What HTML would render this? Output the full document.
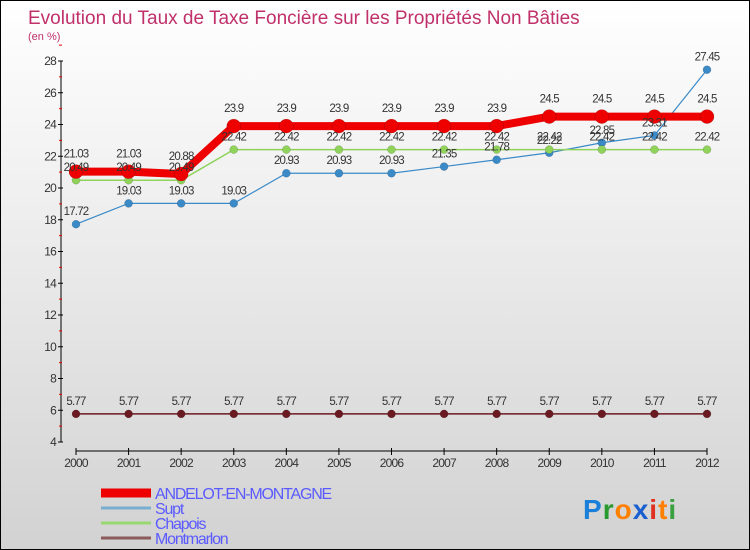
<!DOCTYPE html>
<html><head><meta charset="utf-8"><style>
body{margin:0}
#c{width:750px;height:550px;position:relative;box-sizing:border-box;border:1px solid #000;background:linear-gradient(#ffffff,#f2f2f2 30%,#d2d2d2);font-family:"Liberation Sans",sans-serif;overflow:hidden}
svg{position:absolute;left:0;top:0}
</style></head><body>
<div id="c">
<svg id="s" width="750" height="550">
<text x="27" y="23" font-size="19" fill="#c0306a">Evolution du Taux de Taxe Foncière sur les Propriétés Non Bâties</text>
<text x="27" y="39" font-size="11" fill="#c0306a">(en %)</text>
</svg>
</div>
<script>
const years=[2000,2001,2002,2003,2004,2005,2006,2007,2008,2009,2010,2011,2012];
const andelot=[21.03,21.03,20.88,23.9,23.9,23.9,23.9,23.9,23.9,24.5,24.5,24.5,24.5];
const supt=[17.72,19.03,19.03,19.03,20.93,20.93,20.93,21.35,21.78,22.22,22.85,23.31,27.45];
const chapois=[20.49,20.49,20.49,22.42,22.42,22.42,22.42,22.42,22.42,22.42,22.42,22.42,22.42];
const montmarlon=[5.77,5.77,5.77,5.77,5.77,5.77,5.77,5.77,5.77,5.77,5.77,5.77,5.77];
const yTicks=[4,6,8,10,12,14,16,18,20,22,24,26,28];
const names=["ANDELOT-EN-MONTAGNE","Supt","Chapois","Montmarlon"];

const NS="http://www.w3.org/2000/svg";
const s=document.getElementById('s');
function X(i){return 75+i*(706-75)/(years.length-1);}
function Y(v){return 441-(v-4)*(441-60)/24;}
function el(t,a,txt){const e=document.createElementNS(NS,t);for(const k in a)e.setAttribute(k,a[k]);if(txt!==undefined)e.textContent=txt;s.appendChild(e);return e;}
function lbl(x,y,t){const e=el('text',{x:x,y:y,'font-size':11.5,fill:'#333','text-anchor':'middle','letter-spacing':'-0.8'},t);

}
let a=el('line',{x1:60,y1:60,x2:60,y2:441,stroke:'#000'});


yTicks.forEach(v=>{
 el('line',{x1:57,x2:62,y1:Y(v),y2:Y(v),stroke:'#000'});
 el('line',{x1:58,x2:61,y1:Y(v+1),y2:Y(v+1),stroke:'#e00'});
 const t=el('text',{x:55,y:Y(v)+4,'font-size':12,fill:'#333','text-anchor':'end','letter-spacing':'-0.8'},v);
 
 
});
a=el('line',{x1:75,y1:450,x2:706,y2:450,stroke:'#000'});


years.forEach((y,i)=>{
 el('line',{x1:X(i),x2:X(i),y1:447,y2:454,stroke:'#000'});
 const t=el('text',{x:X(i),y:466,'font-size':12,fill:'#333','text-anchor':'middle','letter-spacing':'-0.8'},y);
 
 
});
function series(d,col,w,r,name){
 const p=el('polyline',{points:d.map((v,i)=>X(i)+','+Y(v)).join(' '),fill:'none',stroke:col,'stroke-width':w});
 
 
 d.forEach((v,i)=>{
  const c=el('circle',{cx:X(i),cy:Y(v),r:r,fill:col,stroke:'rgba(0,0,0,0.25)','stroke-width':0.5});
  
  
 });
}
series(montmarlon,'#6b1a22',1.5,4,'montmarlon');
series(supt,'#3a8ac8',1.2,4,'supt');
series(chapois,'#8fd35a',1.5,4,'chapois');
series(andelot,'#ee0000',8,7,'andelot');
[montmarlon,supt,chapois,andelot].forEach(d=>d.forEach((v,i)=>lbl(X(i),Y(v)-(d===andelot?14:9),String(v))));
const lc=['#ee0000','#7aaed0','#99d870','#8b5a5a'];
names.forEach((n,i)=>{
 const y=492+i*15;
 const l=el('line',{x1:100,x2:150,y1:y,y2:y,stroke:lc[i],'stroke-width':i==0?9:3});
 
 
 const t=el('text',{x:154,y:y+6,'font-size':16,fill:'#5a5aff','letter-spacing':'-1.2'},n);
 
 
});
const lg=el('text',{x:582,y:518,'font-size':28,'font-weight':'bold','letter-spacing':'1'});


[['P','#1a7fd8'],['r','#2a9a30'],['o','#ff8000'],['x','#1a5fd0'],['i','#e03020'],['t','#ff8000'],['i','#3aa040']].forEach(([c,f])=>{const t=document.createElementNS(NS,'tspan');t.setAttribute('fill',f);t.textContent=c;lg.appendChild(t);});
</script>
</body></html>
